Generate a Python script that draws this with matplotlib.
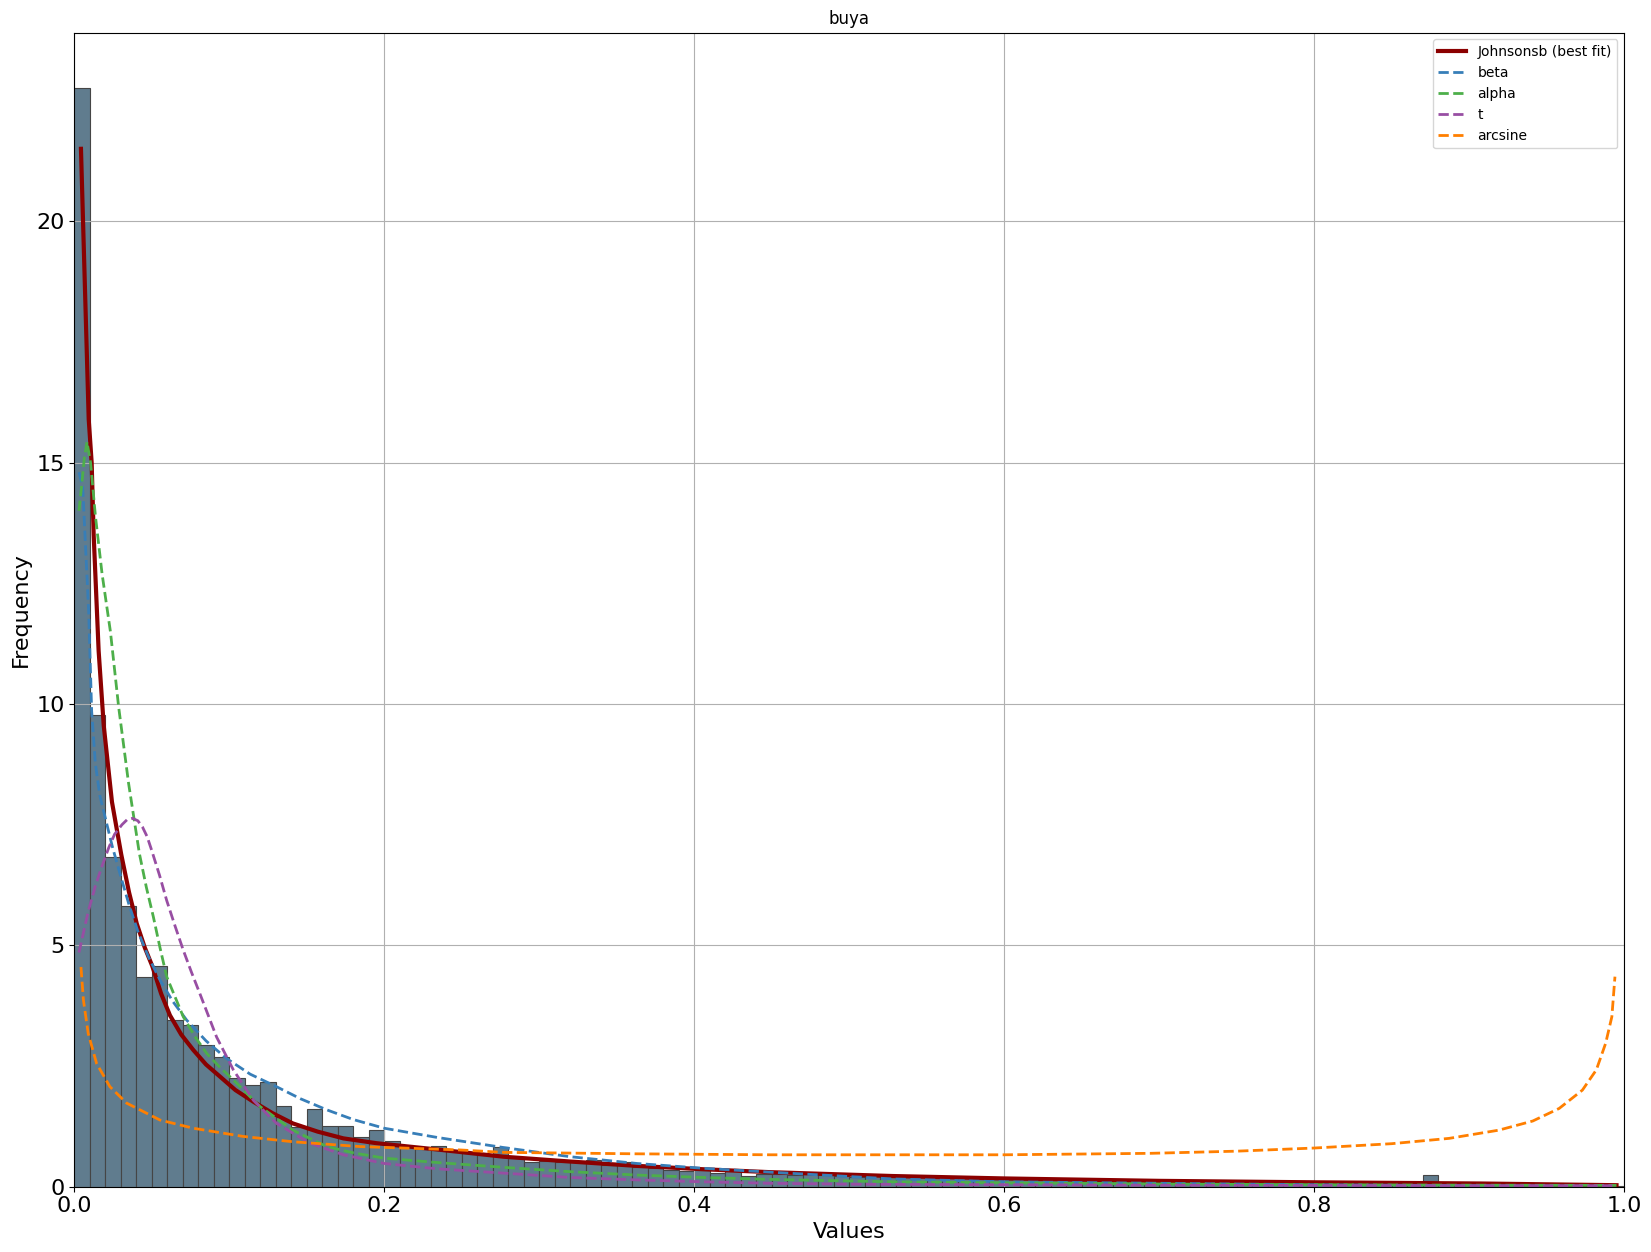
import numpy as np
import matplotlib
matplotlib.use('Agg')
import matplotlib.pyplot as plt

# histogram (density), bins of 0.01 from 0 to 1
bin_edges = np.round(np.arange(0, 1.0001, 0.01), 2)
bar_heights = [22.77, 9.77, 6.82, 5.81, 4.34, 4.57, 3.45, 3.35, 2.93, 2.68,
               2.26, 2.10, 2.16, 1.68, 1.24, 1.61, 1.26, 1.26, 1.03, 1.17,
               0.95, 0.85, 0.77, 0.84, 0.76, 0.69, 0.66, 0.82, 0.59, 0.52,
               0.54, 0.52, 0.54, 0.55, 0.45, 0.51, 0.41, 0.38, 0.35, 0.33,
               0.35, 0.29, 0.35, 0.22, 0.26, 0.27, 0.25, 0.26, 0.24, 0.22,
               0.21, 0.22, 0.20, 0.19, 0.20, 0.18, 0.17, 0.18, 0.16, 0.16,
               0.15, 0.15, 0.14, 0.15, 0.13, 0.13, 0.12, 0.13, 0.11, 0.11,
               0.10, 0.11, 0.10, 0.09, 0.10, 0.09, 0.08, 0.09, 0.08, 0.07,
               0.08, 0.07, 0.06, 0.07, 0.06, 0.06, 0.05, 0.24, 0.05, 0.04,
               0.05, 0.04, 0.04, 0.03, 0.04, 0.03, 0.03, 0.02, 0.02, 0.02]

# fitted pdf curves
johnsonsb_x = [0.0043, 0.0093, 0.0112, 0.0125, 0.0157, 0.019, 0.0243, 0.0303, 0.0353,
               0.0403, 0.0455, 0.0503, 0.056, 0.0617, 0.069, 0.0768, 0.085, 0.094,
               0.104, 0.1155, 0.128, 0.141, 0.157, 0.1736, 0.195, 0.234,
               0.277, 0.32, 0.363, 0.406, 0.449, 0.528, 0.6, 0.7, 0.8, 0.908, 0.995]
johnsonsb_y = [21.5, 15.9, 15.0, 13.5, 11.1, 9.55, 7.97, 6.88, 6.1,
               5.45, 4.95, 4.57, 4.0, 3.55, 3.15, 2.83, 2.53, 2.28,
               2.0, 1.76, 1.52, 1.31, 1.14, 1.0, 0.9, 0.77,
               0.62, 0.52, 0.43, 0.36, 0.30, 0.22, 0.17, 0.12, 0.09, 0.065, 0.03]

beta_x = [0.003, 0.0054, 0.0093, 0.0112, 0.0136, 0.0165, 0.0203, 0.0245, 0.0302, 0.0355,
          0.0409, 0.048, 0.0553, 0.0635, 0.0725, 0.085, 0.098, 0.1135, 0.1305, 0.146,
          0.163, 0.18, 0.2, 0.234, 0.277, 0.32,
          0.363, 0.406, 0.449, 0.528, 0.6, 0.7, 0.8, 0.9, 0.995]
beta_y = [14.8, 14.5, 11.9, 9.85, 8.76, 8.1, 7.6, 7.05, 6.4, 5.82,
          5.3, 4.75, 4.28, 3.84, 3.45, 3.02, 2.66, 2.33, 2.07, 1.82,
          1.59, 1.39, 1.21, 1.02, 0.81, 0.62,
          0.48, 0.38, 0.30, 0.16, 0.10, 0.07, 0.04, 0.02, 0.005]

alpha_x = [0.003, 0.0045, 0.0065, 0.0082, 0.0105, 0.0136, 0.0179, 0.0233, 0.0286, 0.035,
           0.042, 0.0465, 0.051, 0.0553, 0.0596, 0.0703, 0.078, 0.0854, 0.094, 0.1026,
           0.1198, 0.141, 0.163, 0.18, 0.2,
           0.234, 0.277, 0.32, 0.363, 0.406, 0.449, 0.528, 0.6, 0.7, 0.8, 0.9, 0.995]
alpha_y = [14.0, 14.45, 15.1, 15.43, 15.0, 13.9, 12.7, 11.5, 9.94, 8.36,
           6.9, 6.2, 5.59, 4.95, 4.35, 3.52, 3.1, 2.76, 2.47, 2.21,
           1.66, 1.17, 0.83, 0.7, 0.59,
           0.50, 0.40, 0.31, 0.24, 0.19, 0.15, 0.10, 0.08, 0.055, 0.04, 0.03, 0.025]

t_x = [0.003, 0.009, 0.0136, 0.018, 0.0222, 0.026, 0.0308, 0.034, 0.0375, 0.041,
       0.044, 0.047, 0.0499, 0.055, 0.0596, 0.065, 0.0703, 0.0755,
       0.081, 0.0918, 0.1026, 0.1155, 0.1305, 0.152, 0.1736, 0.2, 0.234,
       0.277, 0.32, 0.363, 0.406, 0.449, 0.5, 0.6, 0.7, 0.8, 0.9, 0.995]
t_y = [4.85, 5.7, 6.23, 6.65, 7.02, 7.3, 7.5, 7.6, 7.63, 7.58,
       7.45, 7.25, 6.97, 6.45, 5.93, 5.4, 4.9, 4.45,
       4.0, 3.1, 2.42, 1.79, 1.31, 0.90, 0.66, 0.48, 0.37,
       0.28, 0.19, 0.14, 0.10, 0.07, 0.05, 0.04, 0.03, 0.025, 0.02, 0.02]

arcsine_x = [0.0043, 0.0059, 0.009, 0.0144, 0.023, 0.0338, 0.0553, 0.0768, 0.109,
             0.141, 0.1843, 0.249, 0.277, 0.363, 0.449, 0.6, 0.694, 0.75, 0.8,
             0.85, 0.887, 0.919, 0.941, 0.958, 0.973, 0.982, 0.988, 0.992, 0.994]
arcsine_y = [4.55, 3.86, 3.17, 2.55, 2.07, 1.73, 1.38, 1.21, 1.04,
             0.93, 0.83, 0.76, 0.71, 0.68, 0.66, 0.66, 0.69, 0.735, 0.80,
             0.89, 1.0, 1.17, 1.36, 1.62, 2.0, 2.42, 2.97, 3.52, 4.35]

fig = plt.figure(figsize=(16.51, 12.52), dpi=100)
ax = fig.add_axes([0.045, 0.0522, 0.9388, 0.9218])

ax.bar(bin_edges[:-1], bar_heights, width=0.01, align='edge',
       color='#607c8e', edgecolor='#454545', linewidth=0.8)

ax.plot(johnsonsb_x, johnsonsb_y, color='darkred', lw=3, label='Johnsonsb (best fit)')
ax.plot(beta_x, beta_y, color='#377eb8', lw=2, ls='--', label='beta')
ax.plot(alpha_x, alpha_y, color='#4daf4a', lw=2, ls='--', label='alpha')
ax.plot(t_x, t_y, color='#984ea3', lw=2, ls='--', label='t')
ax.plot(arcsine_x, arcsine_y, color='#ff7f00', lw=2, ls='--', label='arcsine')

ax.set_xlim(0, 1)
ax.set_title('buya', fontsize=12)
ax.set_xlabel('Values', fontsize=16)
ax.set_ylabel('Frequency', fontsize=16)
ax.tick_params(axis='both', labelsize=16)
ax.set_yticks([0, 5, 10, 15, 20])
ax.grid(True)
ax.legend(loc='upper right', fontsize=10)

fig.savefig('out.png', dpi=100)
